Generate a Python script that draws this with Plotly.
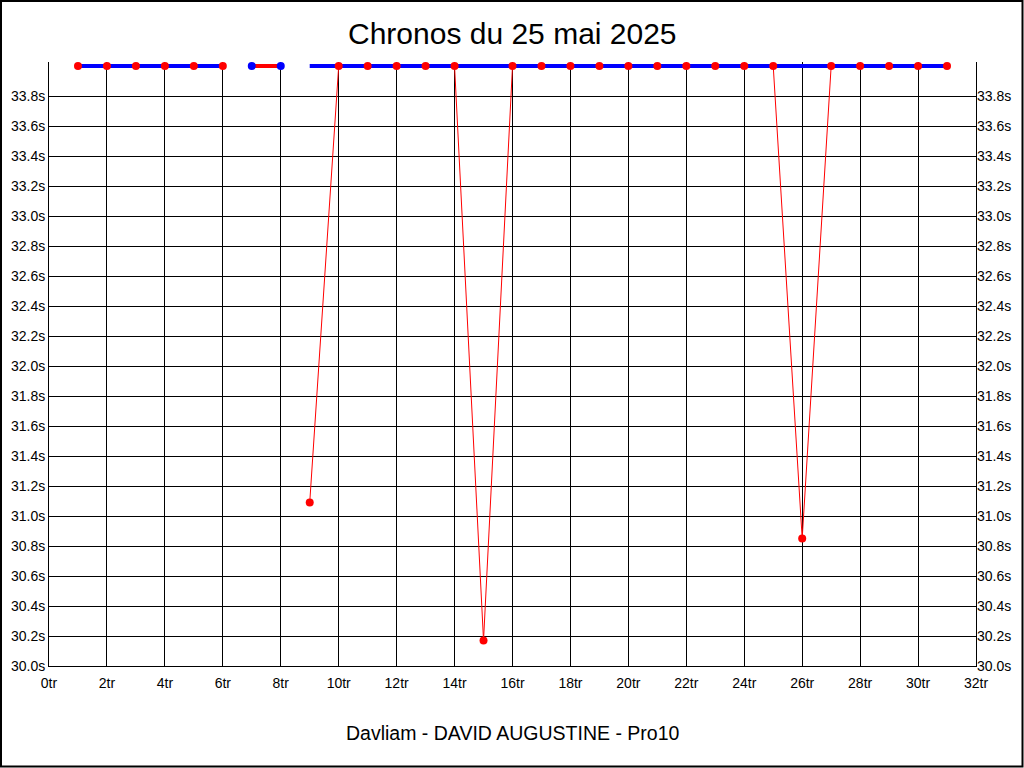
import plotly.graph_objects as go

# Data (laps above the axis top are shown at 34.0s)
tours = list(range(1, 32))
chronos = [34.0, 34.0, 34.0, 34.0, 34.0, 34.0, None, None, 31.09, 34.0,
           34.0, 34.0, 34.0, 34.0, 30.17, 34.0, 34.0, 34.0, 34.0, 34.0,
           34.0, 34.0, 34.0, 34.0, 34.0, 30.85, 34.0, 34.0, 34.0, 34.0, 34.0]
hors_echelle = [34.0, 34.0, 34.0, 34.0, 34.0, 34.0, None, None, 34.0, 34.0,
                34.0, 34.0, 34.0, 34.0, 34.0, 34.0, 34.0, 34.0, 34.0, 34.0,
                34.0, 34.0, 34.0, 34.0, 34.0, 34.0, 34.0, 34.0, 34.0, 34.0, 34.0]
special_tours = [7, 8]
special_vals = [34.0, 34.0]

y_ticks = [30.0 + 0.2 * i for i in range(20)]
y_ticktext = ["%.1fs" % v for v in y_ticks]
x_ticks = list(range(0, 33, 2))
x_ticktext = ["%dtr" % v for v in x_ticks]

title_text = "Chronos du 25 mai 2025"
footer_text = "Davliam - DAVID AUGUSTINE - Pro10"

FONT = "Liberation Sans, Arial, sans-serif"

fig = go.Figure()
# thin red line of lap times (below)
fig.add_trace(go.Scatter(x=tours, y=chronos, mode="lines",
                         line=dict(color="#ff0000", width=1),
                         connectgaps=False, hoverinfo="skip"))
# thick blue line for laps above the scale
fig.add_trace(go.Scatter(x=tours, y=hors_echelle, mode="lines",
                         line=dict(color="#0000ff", width=4),
                         connectgaps=False, hoverinfo="skip"))
# special segment
fig.add_trace(go.Scatter(x=special_tours, y=special_vals, mode="lines+markers",
                         line=dict(color="#ff0000", width=4),
                         marker=dict(color="#0000ff", size=8),
                         cliponaxis=False))
# red markers on top
fig.add_trace(go.Scatter(x=tours, y=chronos, mode="markers",
                         marker=dict(color="#ff0000", size=8),
                         cliponaxis=False))

W, H = 1024, 768
L, R, B = 49, 48, 102
TOP34 = 66            # pixel row of 34.0s
PPS = 150.0           # pixels per second on y
EXTRA = 4             # pixels of plot above 34.0s (so the top line is not clipped)
T = TOP34 - EXTRA
y_top = 34.0 + EXTRA / PPS
pw, ph = W - L - R, H - T - B

def px(xp):
    return (xp - L) / pw

def py(yp):
    return (H - B - yp) / ph

fig.update_layout(
    width=W, height=H,
    margin=dict(l=L, r=R, t=T, b=B),
    paper_bgcolor="white", plot_bgcolor="white",
    showlegend=False,
    font=dict(family=FONT, color="black"),
    xaxis=dict(range=[0, 32], tickvals=x_ticks, ticktext=x_ticktext,
               showgrid=True, gridcolor="black", gridwidth=1,
               zeroline=False, showline=True, linecolor="black", linewidth=1,
               ticks="", ticklabelstandoff=4,
               tickfont=dict(size=14, family=FONT), fixedrange=True),
    yaxis=dict(range=[30, y_top], tickvals=y_ticks, ticktext=y_ticktext,
               showgrid=True, gridcolor="black", gridwidth=1,
               zeroline=False, showline=True, linecolor="black", linewidth=1,
               mirror=True, ticks="", tickfont=dict(size=14, family=FONT),
               fixedrange=True),
    yaxis2=dict(range=[30, y_top], tickvals=y_ticks, ticktext=y_ticktext,
                overlaying="y", side="right", showgrid=False, zeroline=False,
                ticks="", tickfont=dict(size=14, family=FONT), showline=False,
                fixedrange=True),
    annotations=[
        dict(text=title_text, x=0.5, xref="paper", y=py(33), yref="paper",
             showarrow=False, font=dict(size=30, family=FONT), yanchor="middle"),
        dict(text=footer_text, x=0.5, xref="paper", y=py(733), yref="paper",
             showarrow=False, font=dict(size=19.5, family=FONT), yanchor="middle"),
    ],
    shapes=[dict(type="rect", xref="paper", yref="paper",
                 x0=px(1), x1=px(1022.5), y0=py(766.5), y1=py(1),
                 line=dict(color="black", width=2), fillcolor="rgba(0,0,0,0)")],
)
# invisible trace to show right axis labels
fig.add_trace(go.Scatter(x=[None], y=[None], yaxis="y2", showlegend=False))

fig.write_html("out.html", config={"displayModeBar": False},
               post_script="document.body.style.margin='0';document.body.style.padding='0';")
